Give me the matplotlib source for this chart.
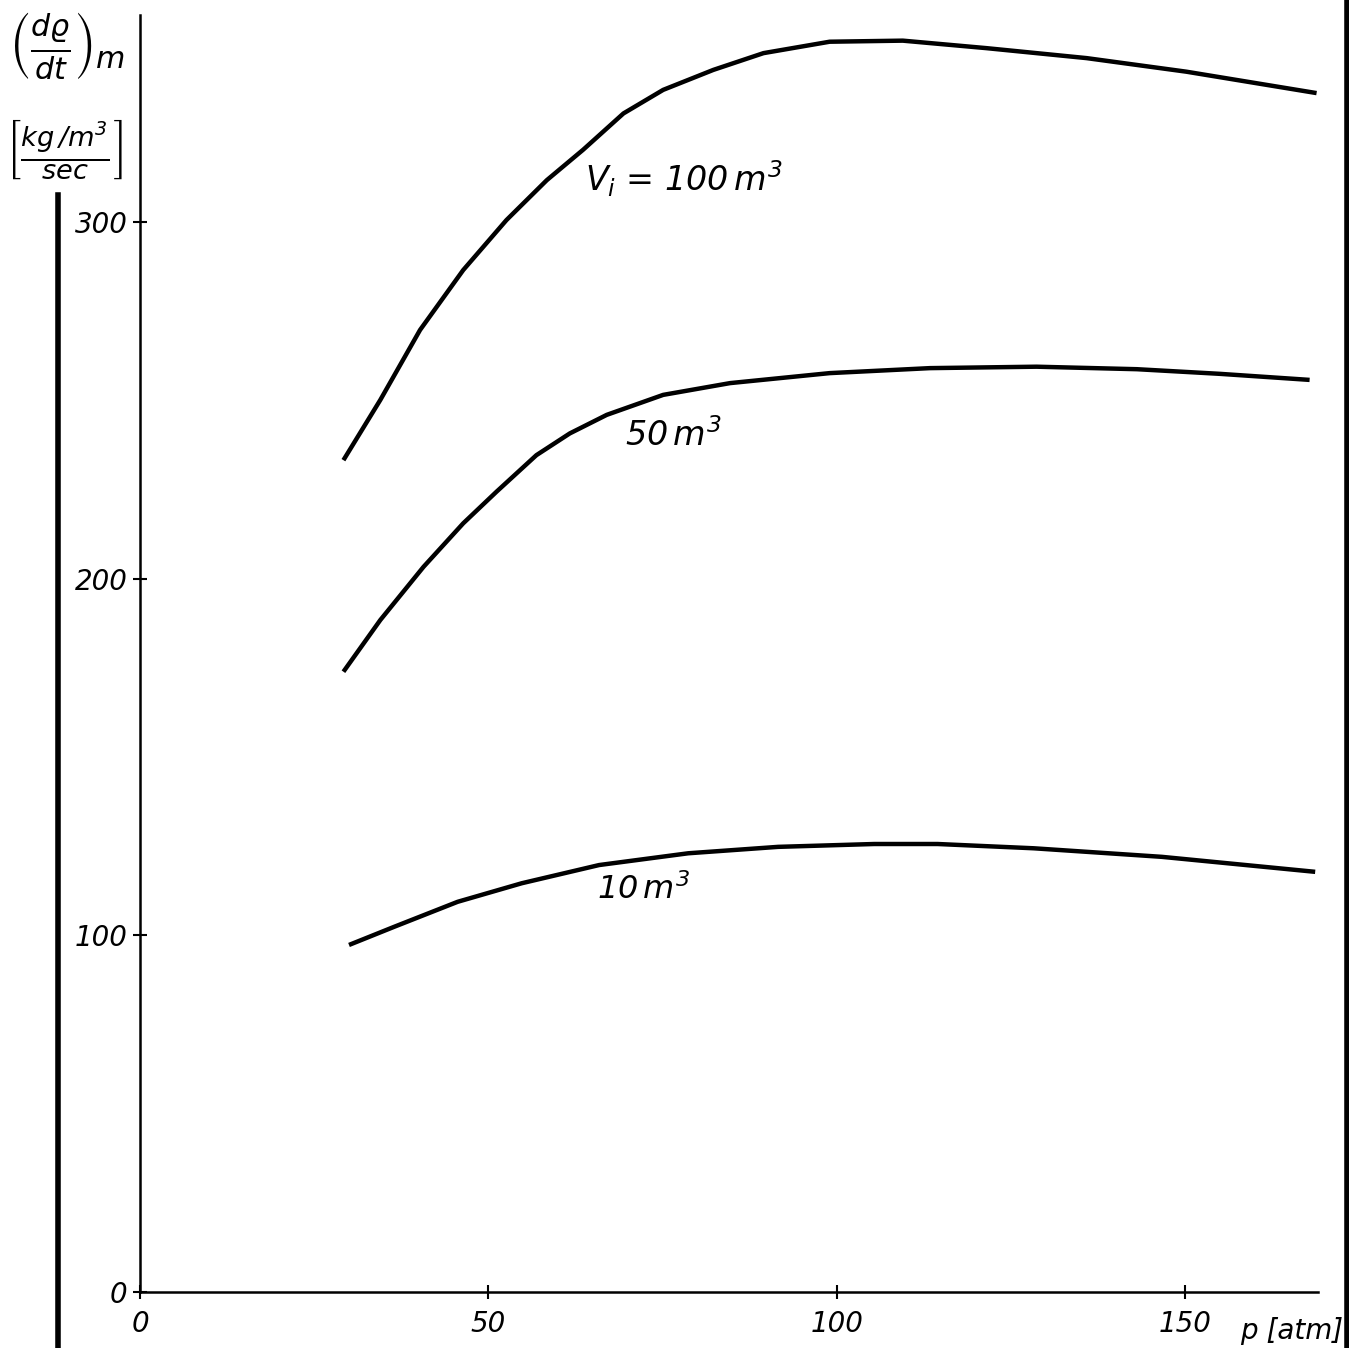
import matplotlib
matplotlib.use('Agg')
import matplotlib.pyplot as plt
from matplotlib.lines import Line2D

plt.rcParams['font.family'] = ['DejaVu Sans']
plt.rcParams['font.style'] = 'italic'
plt.rcParams['mathtext.fontset'] = 'dejavusans'

# curves: p [atm] -> (d rho/dt)_m [kg/m3/sec]
p_100 = [29.2, 34.5, 40.2, 46.4, 52.6, 58.4, 63.6, 69.4, 75.1, 82.3, 89.5, 99.0, 109.5, 121.5, 135.9, 150.2, 168.9]
v_100 = [233.2, 250.1, 269.7, 286.5, 300.5, 311.7, 320.2, 330.4, 337.0, 342.6, 347.3, 350.5, 350.8, 348.7, 345.9, 342.1, 336.1]

p_50 = [29.2, 34.5, 40.7, 46.4, 51.2, 56.9, 61.7, 67.0, 75.1, 84.7, 99.0, 113.4, 128.7, 143.1, 155.0, 167.9]
v_50 = [173.9, 188.4, 203.3, 215.5, 224.4, 234.6, 240.7, 245.9, 251.5, 254.8, 257.6, 259.0, 259.4, 258.7, 257.4, 255.7]

p_10 = [30.0, 36.5, 45.6, 54.8, 65.9, 78.7, 91.6, 105.4, 114.5, 128.3, 146.7, 168.7]
v_10 = [97.3, 102.4, 109.4, 114.6, 119.7, 123.0, 124.8, 125.6, 125.6, 124.4, 122.0, 117.8]

x_ticks = [0, 50, 100, 150]
y_ticks = [0, 100, 200, 300]

fig = plt.figure(figsize=(13.49, 13.48), dpi=100)
ax = fig.add_axes([0.1038, 0.0415, 0.8732, 0.9474])

for px, vy in [(p_100, v_100), (p_50, v_50), (p_10, v_10)]:
    ax.plot(px, vy, color='black', linewidth=3.2, solid_capstyle='butt',
            solid_joinstyle='round')

ax.set_xlim(0, 169.1)
ax.set_ylim(0, 358)
ax.spines['top'].set_visible(False)
ax.spines['right'].set_visible(False)
ax.spines['left'].set_linewidth(1.8)
ax.spines['bottom'].set_linewidth(1.8)

ax.set_xticks(x_ticks)
ax.set_yticks(y_ticks)
ax.set_xticklabels([str(t) for t in x_ticks], fontsize=20, style='italic')
ax.set_yticklabels([str(t) for t in y_ticks], fontsize=20, style='italic')
ax.tick_params(axis='y', direction='inout', length=10, width=1.5, pad=4)
ax.tick_params(axis='x', direction='inout', length=10, width=1.5, pad=8)

ax.text(63.9, 312, r'$V_i$ = 100$\,m^3$', fontsize=24, style='italic',
        ha='left', va='center')
ax.text(69.6, 240, r'50$\,m^3$', fontsize=24, style='italic', ha='left', va='center')
ax.text(65.6, 112.7, r'10$\,m^3$', fontsize=23, style='italic', ha='left', va='center')

fig.text(0.996, 0.002, 'p [atm]', fontsize=20, style='italic', ha='right', va='bottom')

fig.text(0.05, 0.966, r'$\left(\frac{d\varrho}{dt}\right)_m$', fontsize=31, ha='center', va='center')
fig.text(0.048, 0.889, r'$\left[\frac{kg\,/m^3}{sec}\right]$', fontsize=28, ha='center', va='center')

# heavy frame lines of the scanned page
fig.add_artist(Line2D([0.043, 0.043], [0.0, 0.855], color='black', linewidth=4.0))
fig.add_artist(Line2D([0.9985, 0.9985], [0.0, 1.0], color='black', linewidth=4.0))

fig.savefig('out.png', dpi=100, facecolor='white')
